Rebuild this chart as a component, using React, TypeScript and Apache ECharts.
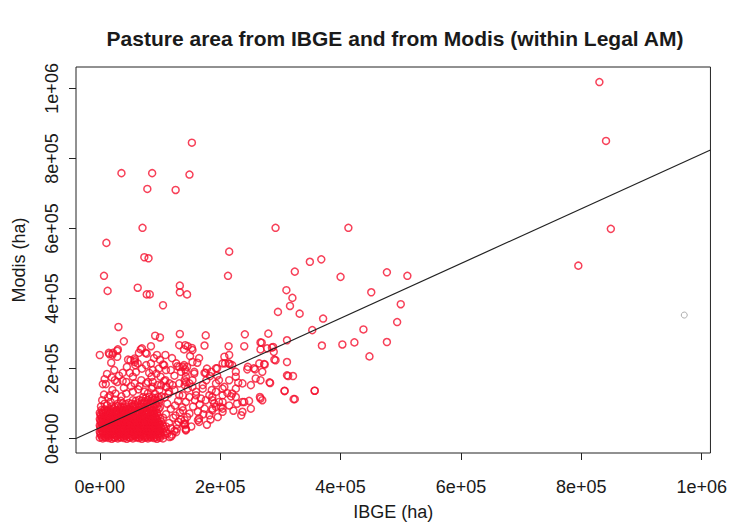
import React, { useEffect, useRef } from 'react';
import * as echarts from 'echarts';

// All values in thousand hectares: [IBGE, Modis]
const TITLE = 'Pasture area from IBGE and from Modis (within Legal AM)';
const X_NAME = 'IBGE (ha)';
const Y_NAME = 'Modis (ha)';
const TICK_VALUES = [0, 200, 400, 600, 800, 1000];
const TICK_LABELS = ['0e+00', '2e+05', '4e+05', '6e+05', '8e+05', '1e+06'];
const X_RANGE = [-39.5, 1014.5];
const Y_RANGE = [-40.7, 1061];
const FIT_INTERCEPT = 31.6;
const FIT_SLOPE = 0.781;

const farPoints = [[830, 1018], [841, 850], [849, 599], [795, 494]];
const grayPoints = [[971, 353]];

const highPoints = [
  [153, 845], [36, 758], [87, 758], [149, 754], [79, 713], [126, 710], [71, 602], [292, 602], [413, 602],
  [11, 559], [215, 534], [74, 518], [81, 515], [7, 465], [213, 465], [13, 422], [63, 431], [78, 412], [83, 412],
  [133, 437], [133, 418], [145, 412], [105, 381], [31, 319], [40, 278], [349, 505], [368, 512], [324, 477],
  [400, 462], [477, 475], [511, 465], [310, 424], [320, 402], [316, 379], [296, 362], [332, 357], [371, 343],
  [451, 418], [500, 384], [494, 333], [438, 312], [353, 310],
];

const midRightPoints = [
  [311, 281], [369, 266], [403, 269], [423, 275], [477, 276], [448, 235], [286, 260], [289, 248], [290, 226],
  [313, 179], [321, 179], [283, 159], [307, 137], [324, 113], [357, 137], [280, 300], [267, 275], [278, 258],
  [269, 274], [267, 255], [288, 262], [292, 224], [311, 219],
];

const midLeftPoints = [
  [92, 294], [100, 289], [133, 299], [176, 295], [241, 298], [146, 264], [153, 259], [174, 266], [214, 264],
  [240, 264], [142, 267], [140, 255], [154, 253], [0, 239], [16, 241], [21, 240], [29, 251], [30, 255],
  [29, 234], [15, 245], [22, 245], [68, 255], [78, 243], [85, 264], [70, 258], [65, 245], [76, 245], [95, 239],
  [109, 239], [51, 224], [58, 224], [47, 226], [58, 229], [63, 215], [19, 217], [24, 196], [77, 210], [105, 212],
  [85, 215], [88, 196], [107, 210], [110, 196], [38, 188], [50, 188], [55, 177], [59, 210], [58, 219], [29, 162],
  [44, 162], [25, 167], [38, 165], [5, 156], [10, 156], [21, 139], [94, 186], [86, 177], [101, 177], [109, 167],
  [80, 162], [88, 148], [102, 153], [111, 148], [116, 158], [58, 158], [69, 167], [77, 158], [88, 162], [96, 153],
  [107, 165], [132, 205], [142, 198], [127, 215], [140, 210], [135, 191], [143, 177], [157, 186], [149, 158],
  [129, 207], [145, 205], [154, 219], [162, 217], [138, 205], [143, 191], [157, 191], [174, 188], [176, 188],
  [195, 201], [208, 215], [216, 213], [204, 215], [193, 201], [185, 191], [207, 234], [215, 239], [214, 215],
  [220, 210], [226, 191], [246, 205], [256, 201], [245, 198], [258, 198], [265, 215], [274, 212], [259, 172],
  [282, 161], [273, 213], [141, 167], [141, 153], [154, 167], [154, 148], [171, 153], [177, 167], [193, 158],
  [198, 167], [186, 139], [204, 143], [124, 139], [132, 124], [146, 143], [160, 134], [171, 143], [182, 124],
  [193, 134], [207, 148], [215, 167], [226, 177], [237, 158], [251, 153], [267, 167], [270, 191], [311, 181],
  [183, 179], [132, 267], [230, 160], [195, 180], [178, 200], [165, 230], [150, 236], [120, 230], [100, 225],
  [90, 230], [70, 200], [60, 190], [45, 205], [32, 180], [20, 175], [12, 185], [8, 170], [40, 145], [52, 150],
  [66, 150], [80, 130], [92, 128], [115, 135], [124, 180], [118, 196], [98, 200], [82, 188],
];

const lowPoints = [
  [307, 136], [322, 113], [357, 137], [266, 119], [248, 108], [237, 105], [235, 67], [226, 143], [218, 121],
  [204, 124], [204, 105], [187, 110], [193, 91], [165, 48], [163, 53], [127, 19], [119, 7], [116, 5], [143, 26],
  [142, 43], [143, 29], [140, 43], [220, 129], [226, 119], [240, 105], [270, 110], [251, 86], [237, 77],
  [138, 124], [143, 105], [149, 119], [160, 124], [168, 115], [176, 110], [187, 119], [190, 101], [198, 105],
  [138, 81], [149, 72], [163, 77], [174, 86], [187, 86], [201, 91], [204, 77], [141, 53], [141, 39], [143, 24],
  [165, 58], [182, 67], [187, 81], [204, 86], [267, 115], [105, 60], [110, 35], [120, 12], [128, 28], [131, 48],
  [126, 66], [137, 90], [145, 62], [152, 35], [155, 92], [158, 110], [166, 98], [172, 70], [178, 40], [184, 55],
  [196, 62], [215, 95], [222, 80], [228, 100], [212, 130],
];

const clusterEdgePoints = [
  [7, 126], [17, 124], [26, 129], [36, 121], [44, 129], [55, 134], [64, 141], [74, 134], [86, 143], [99, 139],
  [110, 148], [121, 153], [132, 158], [143, 162], [112, 15], [118, 30], [115, 45], [122, 60], [110, 70],
  [118, 85], [125, 95], [112, 100], [130, 108], [108, 118], [128, 40], [133, 75], [124, 22], [135, 55],
  [114, 128], [2, 92], [8, 100], [4, 110], [12, 95], [18, 105], [25, 112], [30, 100], [14, 118], [35, 108],
];

const clusterPoints = [
  [0, 3], [5, 1], [10, 4], [15, 2], [20, 0], [25, 3], [30, 1], [35, 4], [40, 2], [45, 0], [50, 3], [55, 1],
  [60, 4], [65, 2], [70, 0], [75, 3], [80, 1], [85, 4], [90, 2], [95, 0], [100, 3], [105, 1],
  [2, 11], [7, 9], [12, 12], [17, 10], [22, 13], [27, 9], [32, 11], [37, 12], [42, 10], [47, 13], [52, 9],
  [57, 11], [62, 12], [67, 10], [72, 13], [77, 9], [82, 11], [87, 12], [92, 10], [97, 13], [102, 9], [108, 11],
  [0, 20], [5, 19], [10, 21], [15, 18], [20, 20], [25, 22], [30, 19], [35, 21], [40, 18], [45, 20], [50, 22],
  [55, 19], [60, 21], [65, 18], [70, 20], [75, 22], [80, 19], [85, 21], [90, 18], [95, 20], [100, 22], [105, 19],
  [110, 21],
  [2, 29], [7, 28], [12, 30], [17, 27], [22, 29], [27, 31], [32, 28], [37, 30], [42, 27], [47, 29], [52, 31],
  [57, 28], [62, 30], [67, 27], [72, 29], [77, 31], [82, 28], [87, 30], [92, 27], [97, 29], [102, 31], [107, 28],
  [0, 38], [5, 37], [10, 39], [15, 36], [20, 38], [25, 40], [30, 37], [35, 39], [40, 36], [45, 38], [50, 40],
  [55, 37], [60, 39], [65, 36], [70, 38], [75, 40], [80, 37], [85, 39], [90, 36], [95, 38], [100, 40], [105, 37],
  [2, 47], [7, 46], [12, 48], [17, 45], [22, 47], [27, 49], [32, 46], [37, 48], [42, 45], [47, 47], [52, 49],
  [57, 46], [62, 48], [67, 45], [72, 47], [77, 49], [82, 46], [87, 48], [92, 45], [97, 47], [102, 49],
  [0, 56], [5, 55], [10, 57], [15, 54], [20, 56], [25, 58], [30, 55], [35, 57], [40, 54], [45, 56], [50, 58],
  [55, 55], [60, 57], [65, 54], [70, 56], [75, 58], [80, 55], [85, 57], [90, 54], [95, 56], [100, 58],
  [2, 65], [7, 64], [12, 66], [17, 63], [22, 65], [27, 67], [32, 64], [37, 66], [42, 63], [47, 65], [52, 67],
  [57, 64], [62, 66], [67, 63], [72, 65], [77, 67], [82, 64], [87, 66], [92, 63], [97, 65],
  [0, 74], [5, 73], [10, 75], [15, 72], [20, 74], [25, 76], [30, 73], [35, 75], [40, 72], [45, 74], [50, 76],
  [55, 73], [60, 75], [65, 72], [70, 74], [75, 76], [80, 73], [85, 75], [90, 72], [95, 74],
  [3, 82], [8, 84], [13, 81], [18, 83], [23, 85], [28, 82], [33, 84], [38, 81], [43, 83], [48, 85], [53, 82],
  [58, 84], [63, 81], [68, 83], [73, 85], [78, 82], [83, 84], [88, 81], [93, 83], [98, 85],
  [20, 92], [25, 90], [30, 93], [35, 91], [40, 89], [45, 92], [50, 90], [55, 93], [60, 91], [65, 89], [70, 92],
  [75, 90], [80, 93], [85, 91], [90, 89], [95, 92], [100, 90],
  [38, 101], [43, 99], [48, 102], [53, 100], [58, 98], [63, 101], [68, 99], [73, 102], [78, 100], [83, 98],
  [88, 101], [93, 99], [98, 102],
  [55, 110], [60, 108], [65, 111], [70, 109], [75, 107], [80, 110], [85, 108], [90, 111], [95, 109], [100, 112],
  [72, 119], [77, 117], [82, 120], [87, 118], [92, 116], [97, 119], [102, 121],
];

const clusterCorePoints = [
  [3, 6], [8, 5], [13, 7], [18, 6], [23, 4], [28, 7], [33, 5], [38, 6], [43, 7], [48, 5], [53, 6], [58, 8],
  [63, 5], [68, 6], [73, 7], [78, 5], [83, 6], [88, 7], [93, 5], [98, 7],
  [1, 15], [6, 16], [11, 14], [16, 15], [21, 16], [26, 14], [31, 16], [36, 15], [41, 14], [46, 16], [51, 15],
  [56, 14], [61, 16], [66, 15], [71, 14], [76, 16], [81, 15], [86, 14], [91, 16], [96, 15], [101, 14],
  [3, 24], [8, 25], [13, 23], [18, 24], [23, 25], [28, 23], [33, 24], [38, 26], [43, 23], [48, 25], [53, 24],
  [58, 23], [63, 25], [68, 24], [73, 23], [78, 25], [83, 24], [88, 26], [93, 23], [98, 24],
  [1, 33], [6, 34], [11, 32], [16, 33], [21, 34], [26, 32], [31, 33], [36, 34], [41, 32], [46, 33], [51, 34],
  [56, 32], [61, 33], [66, 34], [71, 32], [76, 33], [81, 34], [86, 32], [91, 33], [96, 34], [101, 33],
  [3, 42], [8, 43], [13, 41], [18, 42], [23, 43], [28, 41], [33, 42], [38, 43], [43, 41], [48, 42], [53, 43],
  [58, 41], [63, 42], [68, 43], [73, 41], [78, 42], [83, 43], [88, 41], [93, 42], [98, 43],
  [1, 51], [6, 52], [11, 50], [16, 51], [21, 52], [26, 50], [31, 51], [36, 52], [41, 50], [46, 51], [51, 52],
  [56, 50], [61, 51], [66, 52], [71, 50], [76, 51], [81, 52], [86, 50], [91, 51], [96, 52],
  [3, 60], [8, 61], [13, 59], [18, 60], [23, 61], [28, 59], [33, 60], [38, 61], [43, 59], [48, 60], [53, 61],
  [58, 59], [63, 60], [68, 61], [73, 59], [78, 60], [83, 61], [88, 59], [93, 60],
  [1, 69], [6, 70], [11, 68], [16, 69], [21, 70], [26, 68], [31, 69], [36, 70], [41, 68], [46, 69], [51, 70],
  [56, 68], [61, 69], [66, 70], [71, 68], [76, 69], [81, 70], [86, 68], [91, 69],
  [5, 78], [10, 79], [15, 77], [20, 78], [25, 79], [30, 77], [35, 78], [40, 79], [45, 77], [50, 78], [55, 79],
  [60, 77], [65, 78], [70, 79], [75, 77], [80, 78], [85, 79], [90, 77],
];

const RED = '#f5102e';
const FONT = '"Liberation Sans", Arial, Helvetica, sans-serif';
const TEXT = '#1a1a1a';

export default function App() {
  const ref = useRef<HTMLDivElement>(null);
  useEffect(() => {
    if (!ref.current) return;
    const chart = echarts.init(ref.current, undefined, { renderer: 'svg' });
    const redPoints = [
      ...clusterPoints, ...clusterCorePoints, ...clusterEdgePoints, ...lowPoints, ...midLeftPoints,
      ...midRightPoints, ...highPoints, ...farPoints,
    ];
    const fitLine = [
      [X_RANGE[0], FIT_INTERCEPT + FIT_SLOPE * X_RANGE[0]],
      [X_RANGE[1], FIT_INTERCEPT + FIT_SLOPE * X_RANGE[1]],
    ];
    const labelFor = (v: number) => {
      const i = TICK_VALUES.indexOf(Math.round(v));
      return i >= 0 ? TICK_LABELS[i] : '';
    };
    chart.setOption({
      animation: false,
      backgroundColor: '#ffffff',
      title: {
        text: TITLE,
        left: 390,
        top: 23,
        textAlign: 'center',
        textStyle: { fontFamily: FONT, fontSize: 21, fontWeight: 'bold', color: TEXT },
      },
      grid: {
        left: 76, top: 67, width: 638, height: 386,
        show: true, borderColor: '#222', borderWidth: 1, backgroundColor: 'transparent',
      },
      xAxis: {
        type: 'value', min: X_RANGE[0], max: X_RANGE[1],
        name: X_NAME, nameLocation: 'middle', nameGap: 50,
        nameTextStyle: { fontFamily: FONT, fontSize: 18, color: TEXT },
        axisLine: { show: false, onZero: false },
        splitLine: { show: false },
        axisTick: { show: true, customValues: TICK_VALUES, length: 7, lineStyle: { color: '#222' } },
        axisLabel: {
          customValues: TICK_VALUES, formatter: labelFor, margin: 25,
          fontFamily: FONT, fontSize: 18, color: TEXT,
        },
      },
      yAxis: {
        type: 'value', min: Y_RANGE[0], max: Y_RANGE[1],
        name: Y_NAME, nameLocation: 'middle', nameGap: 48, nameRotate: 90,
        nameTextStyle: { fontFamily: FONT, fontSize: 18, color: TEXT },
        axisLine: { show: false, onZero: false },
        splitLine: { show: false },
        axisTick: { show: true, customValues: TICK_VALUES, length: 7, lineStyle: { color: '#222' } },
        axisLabel: {
          customValues: TICK_VALUES, formatter: labelFor, margin: 15, rotate: 90,
          fontFamily: FONT, fontSize: 18, color: TEXT,
        },
      },
      series: [
        {
          type: 'scatter', data: redPoints, symbol: 'circle', symbolSize: 7, silent: true,
          itemStyle: { color: 'rgba(255,255,255,0)', borderColor: RED, borderWidth: 1.5 },
          z: 2,
        },
        {
          type: 'scatter', data: grayPoints, symbol: 'circle', symbolSize: 6, silent: true,
          itemStyle: { color: 'rgba(255,255,255,0)', borderColor: '#9a9a9a', borderWidth: 1 },
          z: 2,
        },
        {
          type: 'line', data: fitLine, symbol: 'none', silent: true,
          lineStyle: { color: '#222', width: 1.2 }, z: 3,
        },
      ],
    });
    return () => chart.dispose();
  }, []);
  return (
    <div
      ref={ref}
      style={{ position: 'fixed', left: 0, top: 0, width: 730, height: 526, background: '#fff' }}
    />
  );
}
